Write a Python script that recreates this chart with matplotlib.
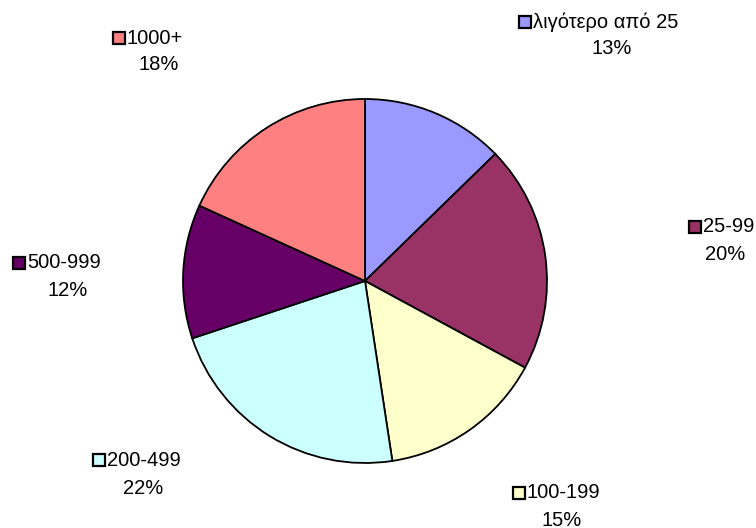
import matplotlib
matplotlib.use("Agg")
import matplotlib.pyplot as plt
from matplotlib.patches import Rectangle

categories = ["λιγότερο από 25", "25-99", "100-199", "200-499", "500-999", "1000+"]
values = [12.7, 20.2, 14.7, 22.3, 11.9, 18.2]
pct_labels = ["13%", "20%", "15%", "22%", "12%", "18%"]
colors = ["#9999FF", "#993366", "#FFFFCC", "#CCFFFF", "#660066", "#FF8080"]

# label layout (pixels from top-left): square left x, line1 y, line2 center x, line2 y
label_layout = [
    (518, 22, 612, 47),
    (688, 227, 725, 253),
    (512, 493, 562, 519),
    (92, 460, 143, 487),
    (12, 263, 68, 290),
    (112, 38, 159, 63),
]

W, H = 756, 528
fig = plt.figure(figsize=(W / 100, H / 100), dpi=100)
plt.rcParams['font.family'] = ['Liberation Sans', 'DejaVu Sans']

cx, cy, r = 365, 281, 182
ax = fig.add_axes([(cx - r) / W, (H - cy - r) / H, 2 * r / W, 2 * r / H])
ax.pie(values, colors=colors, startangle=90, counterclock=False,
       wedgeprops=dict(edgecolor="black", linewidth=1.3))
ax.set_xlim(-1, 1)
ax.set_ylim(-1, 1)
ax.set_aspect("equal")
ax.axis("off")

def px(x, y):
    return x / W, 1 - y / H

sq = 12
fs = 14.5
for cat, pct, col, (sx, y1, c2, y2) in zip(categories, pct_labels, colors, label_layout):
    x0, y0 = px(sx + 1, y1 + sq / 2)
    fig.patches.append(Rectangle((x0, y0), sq / W, sq / H, transform=fig.transFigure,
                                 facecolor=col, edgecolor="black", linewidth=1.6))
    tx, ty = px(sx + sq + 3, y1)
    fig.text(tx, ty, cat, ha="left", va="center", fontsize=fs, color="black")
    tx2, ty2 = px(c2, y2 + 1)
    fig.text(tx2, ty2, pct, ha="center", va="center", fontsize=fs, color="black")

fig.savefig("out.png", dpi=100)
